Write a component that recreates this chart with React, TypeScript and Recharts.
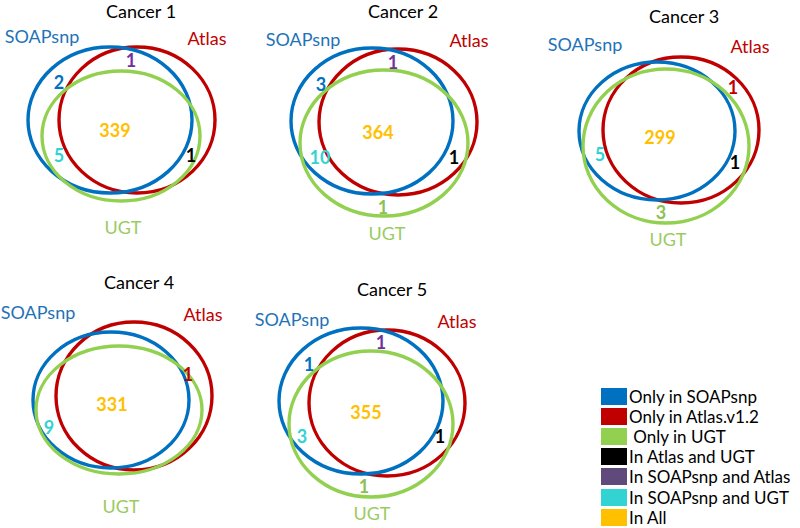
import { ScatterChart, Scatter, XAxis, YAxis, Legend } from 'recharts'

const W = 800
const H = 528
const FONT = 'Lato, "Open Sans", sans-serif'

// data
const panelTitles = ['Cancer 1', 'Cancer 2', 'Cancer 3', 'Cancer 4', 'Cancer 5']
const setLabels = ['SOAPsnp', 'Atlas', 'UGT']
const onlySoap = [2, 3, 0, 0, 1]
const onlyAtlas = [0, 0, 1, 1, 0]
const onlyUgt = [0, 1, 3, 0, 1]
const atlasAndUgt = [1, 1, 1, 0, 1]
const soapAndAtlas = [1, 1, 0, 0, 1]
const soapAndUgt = [5, 10, 5, 9, 3]
const inAll = [339, 364, 299, 331, 355]
const legendLabels = [
  'Only in SOAPsnp',
  'Only in Atlas.v1.2',
  ' Only in UGT',
  'In Atlas and UGT',
  'In SOAPsnp and Atlas',
  'In SOAPsnp and UGT',
  'In All',
]

// colours
const setColors = ['#0070C0', '#C00000', '#92D050']
const setTextColors = ['#1F73B8', '#C00000', '#9ACB62']
const legendColors = ['#0070C0', '#C00000', '#92D050', '#000000', '#604A7B', '#33D3D3', '#FFC000']

const regions = [
  { values: onlySoap, color: '#0070C0' },
  { values: onlyAtlas, color: '#C00000' },
  { values: onlyUgt, color: '#8CC152' },
  { values: atlasAndUgt, color: '#000000' },
  { values: soapAndAtlas, color: '#7030A0' },
  { values: soapAndUgt, color: '#33D3D3' },
  { values: inAll, color: '#FFC000' },
]

// layout per panel (page coordinates), region order as in `regions`
type P = [number, number]
const panelLayout: {
  title: P
  labels: P[]
  ellipses: [number, number, number, number][]
  counts: (P | null)[]
}[] = [
  {
    title: [141, 12],
    labels: [[42, 37], [207, 39], [123, 228]],
    ellipses: [[110, 120, 82, 73], [137, 120, 78, 73], [121, 136, 79, 65]],
    counts: [[59, 83], null, null, [191, 156], [131, 61], [59, 156], [115, 131]],
  },
  {
    title: [403, 12],
    labels: [[303, 40], [469, 41], [387, 234]],
    ellipses: [[372, 121, 81, 73], [398, 122, 79, 73], [384, 143, 84, 73]],
    counts: [[321, 85], null, [383, 208], [454, 158], [393, 63], [320, 158], [378, 133]],
  },
  {
    title: [684, 17],
    labels: [[585, 45], [750, 47], [668, 240]],
    ellipses: [[657, 131, 78, 69], [681, 130, 78, 73], [666, 146, 83, 77]],
    counts: [null, [733, 88], [661, 213], [735, 163], null, [600, 155], [660, 138]],
  },
  {
    title: [139, 283],
    labels: [[38, 313], [203, 315], [121, 507]],
    ellipses: [[111, 400, 78, 68], [134, 396, 78, 74], [119, 410, 83, 64]],
    counts: [null, [188, 375], null, null, null, [49, 428], [112, 405]],
  },
  {
    title: [392, 290],
    labels: [[292, 320], [457, 322], [372, 514]],
    ellipses: [[361, 401, 82, 73], [387, 403, 78, 73], [371, 424, 82, 73]],
    counts: [[309, 365], null, [364, 487], [440, 437], [381, 343], [302, 437], [366, 413]],
  },
]

const ellipseData = (setIdx: number) =>
  panelLayout.map((p) => {
    const [x, y, rx, ry] = p.ellipses[setIdx]
    return { x, y, rx, ry, stroke: setColors[setIdx] }
  })

const textData: any[] = []
panelLayout.forEach((p, i) => {
  textData.push({ x: p.title[0], y: p.title[1], text: panelTitles[i], fill: '#000', weight: 400 })
  setLabels.forEach((s, j) => {
    textData.push({ x: p.labels[j][0], y: p.labels[j][1], text: s, fill: setTextColors[j], weight: 400 })
  })
  regions.forEach((r, k) => {
    const pos = p.counts[k]
    if (!pos || !r.values[i]) return
    textData.push({ x: pos[0], y: pos[1], text: String(r.values[i]), fill: r.color, weight: 700 })
  })
})

const EllipseShape = (props: any) => {
  const { cx, cy, payload } = props
  return (
    <ellipse cx={cx} cy={cy} rx={payload.rx} ry={payload.ry} fill="none" stroke={payload.stroke} strokeWidth={3.4} />
  )
}

const TextShape = (props: any) => {
  const { cx, cy, payload } = props
  return (
    <text x={cx} y={cy} dy="0.35em" textAnchor="middle" fontFamily={FONT} fontSize={18} fontWeight={payload.weight} fill={payload.fill}>
      {payload.text}
    </text>
  )
}

const LegendContent = () => (
  <div style={{ fontFamily: FONT, fontSize: 17, color: '#000' }}>
    {legendLabels.map((label, i) => (
      <div key={label} style={{ display: 'flex', alignItems: 'center', height: 20.2 }}>
        <span style={{ display: 'inline-block', width: 26, height: 17, background: legendColors[i], marginRight: 2 }} />
        <span style={{ whiteSpace: 'pre' }}>{label}</span>
      </div>
    ))}
  </div>
)

export default function App() {
  return (
    <div style={{ position: 'absolute', left: 0, top: 0, width: W, height: H, background: '#fff' }}>
      <ScatterChart width={W} height={H} margin={{ top: 0, right: 0, bottom: 0, left: 0 }}>
        <XAxis type="number" dataKey="x" domain={[0, W]} hide />
        <YAxis type="number" dataKey="y" domain={[0, H]} reversed hide />
        <Scatter data={ellipseData(1)} shape={EllipseShape} isAnimationActive={false} />
        <Scatter data={ellipseData(0)} shape={EllipseShape} isAnimationActive={false} />
        <Scatter data={ellipseData(2)} shape={EllipseShape} isAnimationActive={false} />
        <Scatter data={textData} shape={TextShape} isAnimationActive={false} />
        <Legend
          layout="vertical"
          align="center"
          verticalAlign="middle"
          wrapperStyle={{ left: 601, top: 386, width: 'auto' }}
          content={LegendContent}
        />
      </ScatterChart>
    </div>
  )
}
